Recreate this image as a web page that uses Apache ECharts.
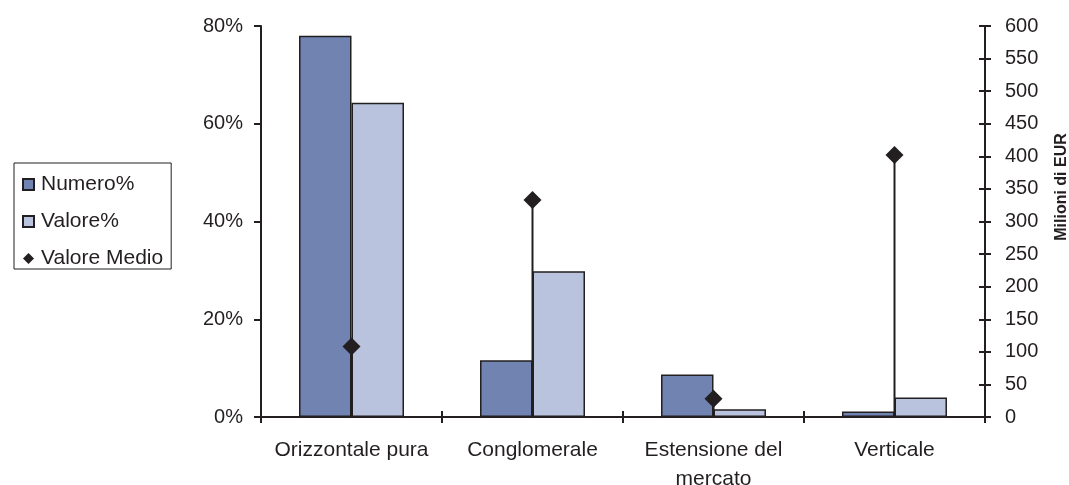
<!DOCTYPE html>
<html><head><meta charset="utf-8">
<script src="https://cdn.jsdelivr.net/npm/echarts@6/dist/echarts.min.js"></script>
<style>html,body{margin:0;padding:0;background:#fff}#c{width:1069px;height:485px}</style>
</head><body><div id="c"></div>
<script>
const categories = ['Orizzontale pura', 'Conglomerale', 'Estensione del\nmercato', 'Verticale'];
const numeroPct = [78.0, 11.6, 8.7, 1.1];
const valorePct = [64.3, 29.8, 1.6, 4.0];
const valoreMedio = [108, 333, 28, 402];
const leftTicks = [0, 20, 40, 60, 80];
const rightTicks = [0, 50, 100, 150, 200, 250, 300, 350, 400, 450, 500, 550, 600];

const ink = '#231F20';
const font = 'Liberation Sans, Arial, sans-serif';
const chart = echarts.init(document.getElementById('c'));
chart.setOption({
  backgroundColor: '#fff',
  animation: false,
  textStyle: { fontFamily: font, color: ink },
  grid: { left: 261, right: 84, top: 26, bottom: 68, outerBoundsMode: 'none', containLabel: false },
  legend: {
    orient: 'vertical', left: 14, top: 163,
    padding: [11, 8, 0, 8],
    borderColor: ink, borderWidth: 1,
    itemWidth: 11, itemHeight: 11, itemGap: 16,
    textStyle: { fontSize: 21, color: ink, fontFamily: font, padding: [0, 0, 0, 2] },
    data: [
      { name: 'Numero%', icon: 'rect' },
      { name: 'Valore%', icon: 'rect' },
      { name: 'Valore Medio', icon: 'diamond', itemStyle: { opacity: 1 } }
    ]
  },
  xAxis: [{
    type: 'category', data: categories, boundaryGap: true,
    axisLine: { lineStyle: { color: ink, width: 2 } },
    axisTick: { show: true, length: 6, lineStyle: { color: ink, width: 2 } },
    axisLabel: { interval: 0, fontSize: 21, color: ink, margin: 19, lineHeight: 29, fontFamily: font }
  }, {
    type: 'category', data: categories, boundaryGap: true, position: 'bottom',
    axisLine: { show: false },
    axisTick: { show: true, inside: true, length: 6, lineStyle: { color: ink, width: 2 } },
    axisLabel: { show: false }
  }],
  yAxis: [{
    type: 'value', min: 0, max: 80, interval: 20, position: 'left',
    axisLine: { show: true, lineStyle: { color: ink, width: 2 } },
    axisTick: { show: true, length: 7, lineStyle: { color: ink, width: 2 } },
    splitLine: { show: false },
    axisLabel: { fontSize: 20, color: ink, margin: 18, formatter: v => v + '%', fontFamily: font }
  }, {
    type: 'value', min: 0, max: 600, interval: 50, position: 'right',
    axisLine: { show: true, lineStyle: { color: ink, width: 2 } },
    axisTick: { show: true, length: 6, lineStyle: { color: ink, width: 2 } },
    splitLine: { show: false },
    axisLabel: { fontSize: 20, color: ink, margin: 20, fontFamily: font }
  }, {
    type: 'value', min: 0, max: 600, interval: 50, position: 'right',
    axisLine: { show: false },
    axisTick: { show: true, inside: true, length: 6, lineStyle: { color: ink, width: 2 } },
    splitLine: { show: false },
    axisLabel: { show: false }
  }],
  graphic: [{
    type: 'text', x: 1062, y: 187, rotation: Math.PI / 2,
    style: { text: 'Milioni di EUR', fontSize: 16, fontWeight: 'bold', fill: ink, fontFamily: font,
             align: 'center', verticalAlign: 'middle' }
  }],
  series: [
    {
      name: 'Valore Medio line', type: 'custom', yAxisIndex: 1, z: 1,
      renderItem: (params, api) => {
        const top = api.coord([api.value(0), api.value(1)]);
        const bot = api.coord([api.value(0), 0]);
        return { type: 'line', shape: { x1: top[0], y1: top[1], x2: bot[0], y2: bot[1] },
                 style: { stroke: ink, lineWidth: 2 } };
      },
      data: valoreMedio.map((v, i) => [i, v]),
      silent: true
    },
    {
      name: 'Numero%', type: 'bar', data: numeroPct, barGap: '0%', barCategoryGap: '42%', z: 2,
      itemStyle: { color: '#7183B0', borderColor: ink, borderWidth: 1.5 }
    },
    {
      name: 'Valore%', type: 'bar', data: valorePct, z: 2,
      itemStyle: { color: '#BAC3DD', borderColor: ink, borderWidth: 1.5 }
    },
    {
      name: 'Valore Medio', type: 'scatter', yAxisIndex: 1, data: valoreMedio, z: 5,
      symbol: 'diamond', symbolSize: [18, 18],
      itemStyle: { color: ink, opacity: 1 }
    }
  ]
});
</script></body></html>
